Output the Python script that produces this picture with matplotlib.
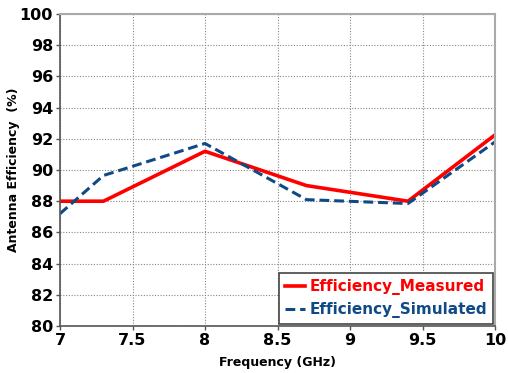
import matplotlib.pyplot as plt

freq_meas = [7.0, 7.3, 8.0, 8.7, 9.4, 10.0]
eff_meas = [88.0, 88.0, 91.2, 89.0, 88.0, 92.25]

freq_sim = [7.0, 7.3, 8.0, 8.7, 9.4, 10.0]
eff_sim = [87.2, 89.65, 91.7, 88.1, 87.85, 91.8]

xticks = [7, 7.5, 8, 8.5, 9, 9.5, 10]
xticklabels = ["7", "7.5", "8", "8.5", "9", "9.5", "10"]
yticks = [80, 82, 84, 86, 88, 90, 92, 94, 96, 98, 100]

fig = plt.figure(figsize=(5.08, 3.73), dpi=100)
ax = fig.add_axes([60 / 508, 1 - 326 / 373, 435 / 508, 312 / 373])

ax.plot(freq_meas, eff_meas, color="#ff0000", lw=2.6, label="Efficiency_Measured")
ax.plot(freq_sim, eff_sim, color="#0f4a86", lw=2.2, ls=(0, (3.2, 1.6)),
        label="Efficiency_Simulated")

ax.set_xlim(7, 10)
ax.set_ylim(80, 100)
ax.set_xticks(xticks)
ax.set_xticklabels(xticklabels)
ax.set_yticks(yticks)
ax.grid(True, ls=(0, (1, 1.5)), color="#888888", lw=0.8)

for lab in ax.get_xticklabels() + ax.get_yticklabels():
    lab.set_fontweight("bold")
    lab.set_fontsize(11.5)
ax.tick_params(axis="both", length=3, width=1, color="#555555", pad=2)

for side in ["left", "bottom"]:
    ax.spines[side].set_color("#555555")
    ax.spines[side].set_linewidth(1.2)
for side in ["top", "right"]:
    ax.spines[side].set_color("#aaaaaa")
    ax.spines[side].set_linewidth(1.5)

ax.set_xlabel("Frequency (GHz)", fontsize=9, fontweight="bold", labelpad=6)
ax.set_ylabel("Antenna Efficiency  (%)", fontsize=9, fontweight="bold")
ax.yaxis.set_label_coords(-40 / 435, 0.5)

leg = ax.legend(loc="lower right", handlelength=1.3, handletextpad=0.3,
                fancybox=False, framealpha=1, edgecolor="#444444",
                borderaxespad=0.1, borderpad=0.4, labelspacing=0.45,
                prop={"weight": "bold", "size": 11})
leg.get_frame().set_linewidth(1.2)
for txt, c in zip(leg.get_texts(), ["#ff0000", "#0f4a86"]):
    txt.set_color(c)

fig.savefig("out.png", dpi=100)
